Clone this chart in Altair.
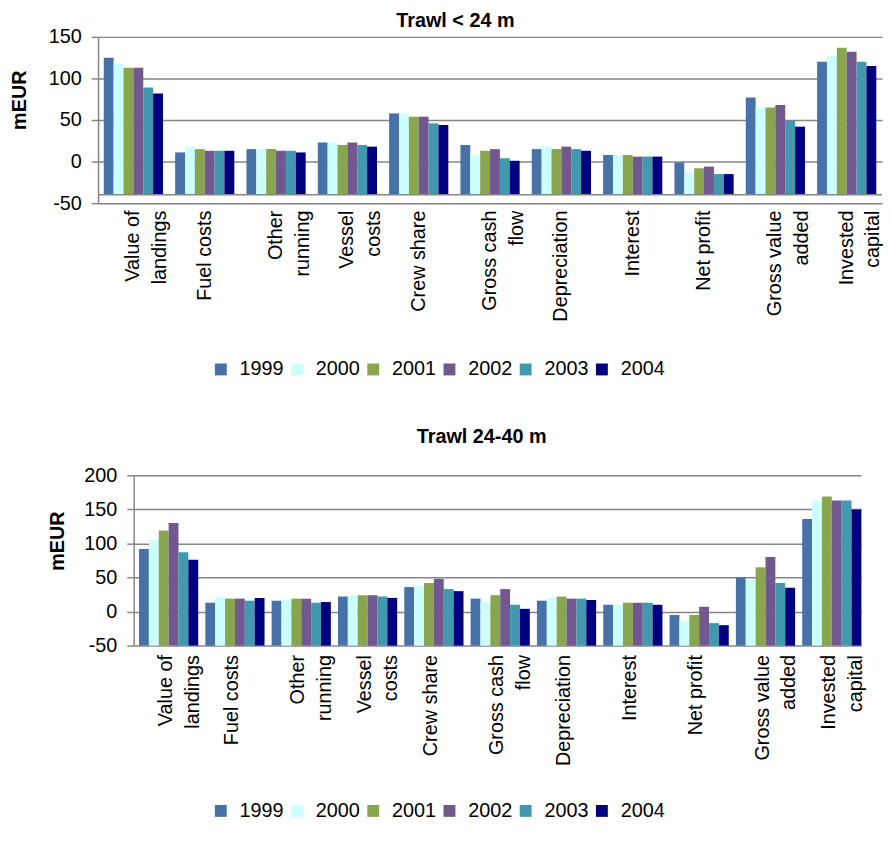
import altair as alt
import pandas as pd

categories = ["Value of landings", "Fuel costs", "Other running", "Vessel costs",
              "Crew share", "Gross cash flow", "Depreciation", "Interest",
              "Net profit", "Gross value added", "Invested capital"]
category_lines = [["Value of", "landings"], ["Fuel costs"], ["Other", "running"],
                  ["Vessel", "costs"], ["Crew share"], ["Gross cash", "flow"],
                  ["Depreciation"], ["Interest"], ["Net profit"],
                  ["Gross value", "added"], ["Invested", "capital"]]
years = ["1999", "2000", "2001", "2002", "2003", "2004"]
colors = ["#4672A8", "#CCFFFF", "#89A54E", "#71588F", "#4198AF", "#000080"]

# Trawl < 24 m
small_1999 = [125, 11, 15, 23, 58, 20, 15, 8, -1, 77, 120]
small_2000 = [118, 18, 15, 23, 58, 8, 18, 8, -13, 65, 127]
small_2001 = [113, 15, 15, 20, 54, 13, 15, 8, -8, 65, 137]
small_2002 = [113, 13, 13, 23, 54, 15, 18, 6, -6, 68, 132]
small_2003 = [89, 13, 13, 20, 46, 4, 15, 6, -15, 49, 120]
small_2004 = [82, 13, 11, 18, 44, 1, 13, 6, -15, 42, 115]

# Trawl 24-40 m
large_1999 = [92, 13, 16, 22, 36, 19, 16, 10, -5, 50, 136]
large_2000 = [105, 22, 17, 24, 38, 14, 20, 10, -14, 47, 163]
large_2001 = [119, 19, 19, 24, 42, 24, 22, 13, -5, 65, 169]
large_2002 = [130, 19, 19, 24, 48, 33, 19, 13, 7, 80, 163]
large_2003 = [87, 16, 13, 22, 33, 10, 19, 13, -17, 42, 163]
large_2004 = [76, 20, 14, 20, 30, 4, 17, 10, -20, 35, 150]

small_ticks = [-50, 0, 50, 100, 150]
large_ticks = [-50, 0, 50, 100, 150, 200]

FONT = "Liberation Sans"
GRAY = "#868686"


def to_frame(series):
    rows = []
    for y, vals in zip(years, series):
        for c, v in zip(categories, vals):
            rows.append({"category": c, "year": y, "value": v})
    return pd.DataFrame(rows)


def label_expr():
    parts = []
    for c, lines in zip(categories, category_lines):
        arr = "[" + ",".join("'" + l + "'" for l in lines) + "]"
        parts.append("datum.label == '" + c + "' ? " + arr + " : ")
    return "".join(parts) + "datum.label"


def panel(df, ticks, base, width, height, pad_inner, title, title_dx, title_offset,
          ytitle_x, ytitle_y, legend_x, legend_y, label_pad, axis_rule=None):
    bars = alt.Chart(df).mark_bar().encode(
        x=alt.X("category:N", sort=categories,
                scale=alt.Scale(paddingInner=pad_inner, paddingOuter=0.08),
                axis=alt.Axis(title=None, labelAngle=270, labelAlign="right",
                              labelBaseline="middle", labelExpr=label_expr(),
                              labelFont=FONT, labelFontSize=20, labelLineHeight=27,
                              labelColor="black", domain=False, ticks=False,
                              labelPadding=label_pad, labelLimit=0)),
        xOffset=alt.XOffset("year:N", sort=years,
                            scale=alt.Scale(paddingInner=0, paddingOuter=0)),
        y=alt.Y("value:Q",
                scale=alt.Scale(domain=[ticks[0], ticks[-1]], nice=False, zero=False),
                axis=alt.Axis(values=ticks, title="mEUR", labelExpr="'' + datum.value",
                              labelFont=FONT, labelFontSize=20, labelColor="black",
                              labelPadding=10, tickSize=7, tickWidth=1.5, tickColor=GRAY,
                              domainColor=GRAY, domainWidth=1.5, gridColor=GRAY,
                              gridWidth=1.5, titleFont=FONT, titleFontSize=20,
                              titleFontWeight="bold", titleColor="black",
                              titleAngle=270, titleAlign="center",
                              titleBaseline="middle", titleX=ytitle_x, titleY=ytitle_y)),
        y2=alt.datum(base),
        color=alt.Color("year:N", sort=years,
                        scale=alt.Scale(domain=years, range=colors),
                        legend=alt.Legend(title=None, orient="none", direction="horizontal",
                                          legendX=legend_x, legendY=legend_y,
                                          symbolType="square", symbolSize=144,
                                          symbolStrokeWidth=0, labelFont=FONT,
                                          labelFontSize=20, labelColor="black",
                                          labelOffset=9, columnPadding=3)),
    )
    layers = [bars]
    if axis_rule is not None:
        rule = alt.Chart(pd.DataFrame({"v": [axis_rule]})).mark_rule(
            color=GRAY, strokeWidth=1.5).encode(y=alt.Y("v:Q"))
        layers.append(rule)
    return alt.layer(*layers).properties(
        width=width, height=height,
        title=alt.TitleParams(title, font=FONT, fontSize=20, fontWeight="bold",
                              color="black", anchor="middle", frame="group",
                              dx=title_dx, offset=title_offset, baseline="alphabetic"),
    )


def spacer(w):
    return alt.Chart(pd.DataFrame({"s": [0]})).mark_text(text="").encode(
        x=alt.value(0), y=alt.value(0)).properties(width=w, height=1)


top = panel(to_frame([small_1999, small_2000, small_2001, small_2002, small_2003, small_2004]),
            small_ticks, -40, 792, 168, 0.17, "Trawl < 24 m", -35, -20,
            -79, 63.5, 114, 326, 7, axis_rule=-40)
bottom = panel(to_frame([large_1999, large_2000, large_2001, large_2002, large_2003, large_2004]),
               large_ticks, -50, 735, 172, 0.19, "Trawl 24-40 m", -16, 3,
               -77, 66, 78, 329, 9)

top_row = alt.hconcat(spacer(2), top, spacing=0).resolve_scale(color="independent")
bottom_row = alt.hconcat(spacer(20), bottom, spacing=20).resolve_scale(color="independent")

chart = alt.concat(top_row, bottom_row, columns=1, align="none", spacing=48).resolve_scale(
    color="independent").properties(
    padding={"left": 0, "top": -1, "right": 0, "bottom": -5}
).configure(font=FONT).configure_view(strokeWidth=0, strokeOpacity=0)

chart.save("out.html", embed_options={"renderer": "svg", "actions": False})
